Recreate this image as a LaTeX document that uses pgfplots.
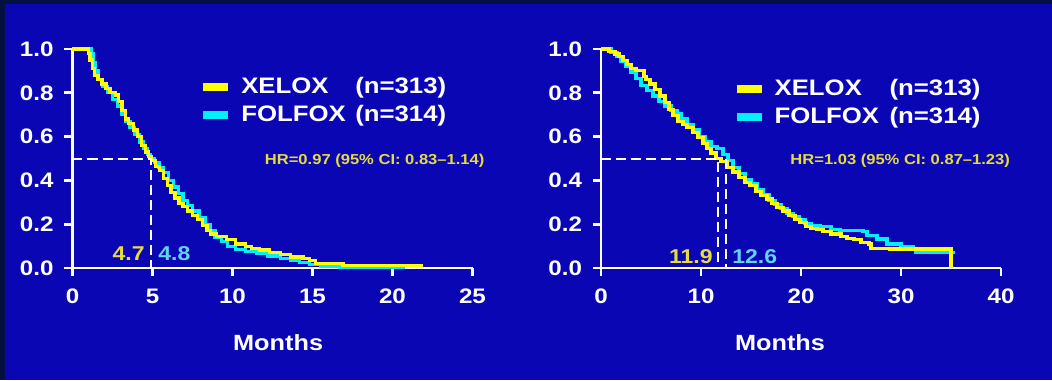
\documentclass[border=0pt]{standalone}
\usepackage{fontspec}
\setmainfont{Liberation Sans}[FakeStretch=1.15]
\usepackage{pgfplots}
\pgfplotsset{compat=1.18}
\definecolor{bgblue}{RGB}{10,6,180}
\definecolor{darkb}{RGB}{4,16,64}
\definecolor{kmyellow}{RGB}{255,255,0}
\definecolor{kmcyan}{RGB}{0,240,255}
\definecolor{lblyellow}{RGB}{230,220,60}
\definecolor{lblcyan}{RGB}{100,210,240}
\pgfplotsset{
  kmaxis/.style={
    scale only axis, width=200pt, height=109.5pt,
    ymin=0, ymax=1, ytick={0,0.2,0.4,0.6,0.8,1},
    axis lines=left, axis line style={white, line width=1.4pt, -},
    tick align=outside, major tick length=4pt,
    major tick style={white, line width=1.4pt},
    tick label style={white, font=\fontsize{10.5}{12}\selectfont\bfseries},
    xticklabel style={yshift=-3pt},
    yticklabel style={xshift=-2pt, /pgf/number format/.cd, fixed, fixed zerofill, precision=1},
    /pgf/number format/assume math mode=true,
    clip=false,
    legend style={draw=none, fill=none, text=white, font=\fontsize{11.2}{13}\selectfont\bfseries,
      legend cell align=left, row sep=0.5pt, inner sep=0pt,
      /tikz/every odd column/.append style={column sep=2.5pt}},
    legend image code/.code={\draw[line width=4pt] (0pt,0pt) -- (12.5pt,0pt);},
  },
  medline/.style={white, line width=1pt, dash pattern=on 5pt off 2.5pt, forget plot},
  cyancurve/.style={kmcyan, line width=1.6pt, const plot, forget plot},
  yellowcurve/.style={kmyellow, line width=1.6pt, const plot, forget plot},
}
\tikzset{
  xlab/.style={white, font=\fontsize{11}{13}\selectfont\bfseries},
  hrlab/.style={text=lblyellow, font=\fontsize{7.2}{8}\selectfont\bfseries, inner sep=0pt, anchor=west},
  medlab/.style={font=\fontsize{10}{12}\selectfont\bfseries, inner sep=0pt},
}
\pgfplotstableread{
m s
0 1.00
1.0 0.98
1.1 0.95
1.25 0.91
1.4 0.88
1.6 0.86
1.85 0.84
2.1 0.82
2.35 0.80
2.7 0.79
2.9 0.76
3.1 0.72
3.3 0.68
3.5 0.66
3.8 0.63
4.05 0.60
4.3 0.56
4.55 0.53
4.75 0.51
4.95 0.49
5.2 0.465
5.45 0.445
5.7 0.41
5.95 0.375
6.15 0.345
6.4 0.32
6.65 0.295
6.9 0.28
7.2 0.26
7.5 0.24
7.8 0.22
8.1 0.195
8.4 0.17
8.6 0.155
9.0 0.145
9.6 0.13
10.2 0.11
10.8 0.10
11.2 0.09
11.7 0.082
12.3 0.07
13.0 0.06
13.6 0.05
14.4 0.045
14.8 0.035
15.2 0.02
16.9 0.012
21.9 0.012
}\leftxelox
\pgfplotstableread{
m s
0 1.00
1.2 0.98
1.3 0.94
1.45 0.90
1.6 0.86
1.9 0.83
2.2 0.80
2.5 0.77
2.8 0.74
3.1 0.70
3.3 0.67
3.6 0.64
3.9 0.61
4.2 0.575
4.45 0.545
4.7 0.52
4.85 0.50
5.1 0.48
5.4 0.46
5.7 0.435
6.0 0.40
6.3 0.37
6.6 0.34
6.9 0.31
7.2 0.285
7.5 0.26
7.9 0.23
8.3 0.20
8.6 0.17
8.9 0.14
9.3 0.12
9.7 0.097
10.2 0.085
10.8 0.075
11.5 0.065
12.2 0.055
13.0 0.045
13.6 0.035
14.2 0.025
14.8 0.015
15.5 0.008
16.7 0.005
20.8 0.005
}\leftfolfox
\pgfplotstableread{
m s
0 1.00
0.8 0.99
1.4 0.977
1.8 0.965
2.2 0.947
2.6 0.93
3.0 0.91
3.5 0.90
4.3 0.875
4.5 0.86
4.9 0.84
5.4 0.815
5.9 0.785
6.4 0.755
6.8 0.725
7.2 0.695
7.7 0.67
8.2 0.655
8.6 0.64
9.2 0.62
9.7 0.595
10.2 0.57
10.6 0.545
11.0 0.525
11.5 0.50
12.0 0.485
12.6 0.46
13.2 0.438
13.8 0.415
14.4 0.39
14.9 0.375
15.5 0.35
16.0 0.33
16.6 0.315
17.1 0.295
17.6 0.275
18.2 0.26
18.8 0.24
19.4 0.22
19.9 0.207
20.5 0.19
21.0 0.182
21.6 0.175
22.2 0.165
23.0 0.155
24.0 0.145
24.6 0.135
25.3 0.13
26.0 0.115
26.8 0.11
27.0 0.09
28.9 0.087
35.0 0.087
35.0 0
}\rightxelox
\pgfplotstableread{
m s
0 1.00
1.0 0.985
1.6 0.965
2.0 0.945
2.5 0.92
3.0 0.895
3.5 0.865
4.0 0.835
4.6 0.81
5.2 0.785
5.8 0.76
6.4 0.74
7.0 0.72
7.6 0.705
8.0 0.68
8.6 0.655
9.2 0.63
9.8 0.60
10.4 0.575
11.0 0.555
11.6 0.545
12.2 0.52
12.7 0.49
13.2 0.46
13.8 0.43
14.4 0.405
15.0 0.385
15.6 0.36
16.2 0.335
16.8 0.31
17.4 0.29
18.0 0.27
18.6 0.25
19.2 0.235
19.8 0.22
20.4 0.205
21.0 0.195
21.9 0.19
23.0 0.175
23.9 0.17
26.2 0.165
26.6 0.15
27.6 0.132
28.6 0.11
30.0 0.10
31.2 0.087
31.5 0.072
35.2 0.065
}\rightfolfox
\begin{document}
\begin{tikzpicture}
\useasboundingbox (0pt,0pt) rectangle (526pt,190pt);
\fill[darkb] (0pt,0pt) rectangle (526pt,190pt);
\fill[bgblue] (2.5pt,0pt) rectangle (526pt,188pt);
\begin{axis}[kmaxis, at={(36.25pt,56pt)}, anchor=south west,
  xmin=0, xmax=25, xtick={0,5,10,15,20,25},
  legend style={at={(rel axis cs:0.316,0.763)}, anchor=west}]
\addlegendimage{kmyellow}
\addlegendentry{\makebox[57pt][l]{XELOX}(n=313)}
\addlegendimage{kmcyan}
\addlegendentry{\makebox[57pt][l]{FOLFOX}(n=314)}
\addplot[cyancurve] table {\leftfolfox};
\addplot[yellowcurve] table {\leftxelox};
\addplot[medline] coordinates {(0,0.5) (4.9,0.5) (4.9,0)};
\node[hrlab] at (axis cs:12.0,0.49) {HR=0.97 (95\% CI: 0.83--1.14)};
\node[medlab, text=lblyellow, anchor=east] at (axis cs:4.53,0.064) {4.7};
\node[medlab, text=lblcyan, anchor=west] at (axis cs:5.34,0.064) {4.8};
\node[xlab, yshift=-37.5pt] at (rel axis cs:0.514,0) {Months};
\end{axis}
\begin{axis}[kmaxis, at={(300.5pt,56pt)}, anchor=south west,
  xmin=0, xmax=40, xtick={0,10,20,30,40},
  legend style={at={(rel axis cs:0.328,0.755)}, anchor=west}]
\addlegendimage{kmyellow}
\addlegendentry{\makebox[57.5pt][l]{XELOX}(n=313)}
\addlegendimage{kmcyan}
\addlegendentry{\makebox[57.5pt][l]{FOLFOX}(n=314)}
\addplot[cyancurve] table {\rightfolfox};
\addplot[yellowcurve] table {\rightxelox};
\addplot[medline] coordinates {(0,0.5) (11.7,0.5) (11.7,0)};
\addplot[medline] coordinates {(12.5,0.5) (12.5,0)};
\node[hrlab] at (axis cs:18.9,0.49) {HR=1.03 (95\% CI: 0.87--1.23)};
\node[medlab, text=lblyellow, anchor=east] at (axis cs:11.2,0.05) {11.9};
\node[medlab, text=lblcyan, anchor=west] at (axis cs:13.1,0.05) {12.6};
\node[xlab, yshift=-37.5pt] at (rel axis cs:0.4475,0) {Months};
\end{axis}
\end{tikzpicture}
\end{document}
